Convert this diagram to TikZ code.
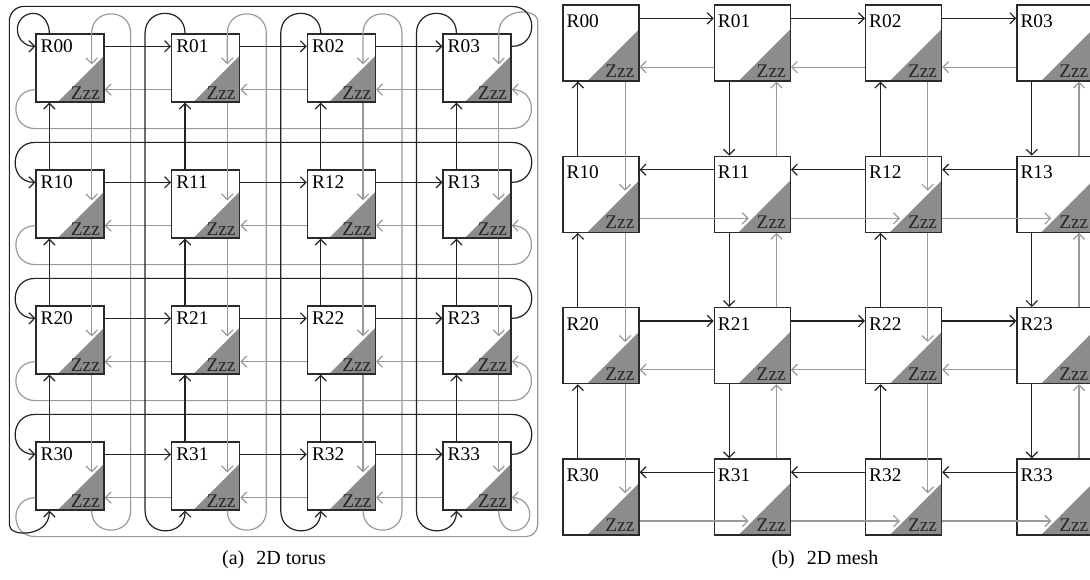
\documentclass[tikz,border=0pt]{standalone}
\usepackage{fontspec}
\setmainfont{Liberation Serif}
\usetikzlibrary{calc,arrows.meta}
\definecolor{blk}{HTML}{222222}
\definecolor{gry}{HTML}{9A9A9A}
\definecolor{tri}{HTML}{8C8C8C}
\definecolor{brd}{HTML}{2A2A2A}
\tikzset{
  rbox/.style={draw=brd, line width=0.95pt, fill=white, inner sep=0pt, minimum size=#1,
    path picture={\fill[tri] ($(path picture bounding box.south west)!0.32!(path picture bounding box.south east)$) -- (path picture bounding box.south east) -- ($(path picture bounding box.south east)!0.68!(path picture bounding box.north east)$) -- cycle;}},
  rlbl/.style={inner sep=0pt, font=\fontsize{14.5}{16}\selectfont, anchor=north west},
  zlbl/.style={inner sep=0pt, font=\fontsize{14.5}{16}\selectfont, anchor=base east, text=black!85},
  bl/.style={draw=blk, line width=0.9pt},
  gl/.style={draw=gry, line width=0.9pt},
  tip/.style={-{Straight Barb[length=4.2pt,width=8.5pt]}},
  capt/.style={inner sep=0pt, font=\fontsize{15}{17}\selectfont, anchor=base},
}
\begin{document}
\begin{tikzpicture}[x=0.75pt,y=-0.75pt]
\clip (0,0) rectangle (1090,580);
\fill[white] (0,0) rectangle (1090,580);

% ---------------- torus nodes ----------------
\foreach \i in {0,...,3}{\foreach \j in {0,...,3}{
  \pgfmathsetmacro\cx{70+135.7*\j}
  \pgfmathsetmacro\cy{68+136*\i}
  \node[rbox=51pt] (t\i\j) at (\cx,\cy) {};
}}

% ---------------- torus gray links ----------------
\foreach \i in {0,...,3}{\foreach \j in {0,1,2}{
  \pgfmathtruncatemacro\jn{\j+1}
  \draw[gl,tip] ($(t\i\jn.south west)+(0,-13)$) -- ($(t\i\j.south east)+(0,-13)$);
}}
\foreach \i in {0,1,2}{\foreach \j in {0,...,3}{
  \pgfmathtruncatemacro\inn{\i+1}
  \draw[gl,tip] ($(t\i\j.south east)+(-13,0)$) -- ($(t\inn\j.north east)+(-13,31)$);
}}
\foreach \i in {0,1,2}{
  \draw[gl,tip] ($(t\i0.south west)+(0,-13)$) .. controls ($(t\i0.south west)+(-26,-13)$) and ($(t\i0.south west)+(-26,26)$) .. ($(t\i0.south west)+(0,26)$) -- ($(t\i3.south east)+(0,26)$) .. controls ($(t\i3.south east)+(26,26)$) and ($(t\i3.south east)+(26,-13)$) .. ($(t\i3.south east)+(0,-13)$);
}
\foreach \j in {0,1,2}{
  \draw[gl,tip] ($(t3\j.south east)+(-13,0)$) .. controls ($(t3\j.south east)+(-13,26)$) and ($(t3\j.south east)+(26,26)$) .. ($(t3\j.south east)+(26,0)$) -- ($(t0\j.north east)+(26,0)$) .. controls ($(t0\j.north east)+(26,-26)$) and ($(t0\j.north east)+(-13,-26)$) .. ($(t0\j.north east)+(-13,0)$) -- ($(t0\j.north east)+(-13,31)$);
}
\draw[gl,tip] ($(t30.south west)+(0,-13)$) .. controls ($(t30.south west)+(-26,-13)$) and ($(t30.south west)+(-26,26)$) .. ($(t30.south west)+(0,26)$) [rounded corners=9pt] -- ($(t33.south east)+(26,26)$) -- ($(t03.north east)+(26,0)$) [sharp corners] .. controls ($(t03.north east)+(26,-26)$) and ($(t03.north east)+(-13,-26)$) .. ($(t03.north east)+(-13,0)$) -- ($(t03.north east)+(-13,31)$);
\draw[gl,tip] ($(t33.south east)+(-13,0)$) .. controls ($(t33.south east)+(-13,11)$) and ($(t33.south east)+(-7,20)$) .. ($(t33.south east)+(2,20)$) .. controls ($(t33.south east)+(11,20)$) and ($(t33.south east)+(18,13)$) .. ($(t33.south east)+(18,4)$) .. controls ($(t33.south east)+(18,-6)$) and ($(t33.south east)+(10,-13)$) .. ($(t33.south east)+(0,-13)$);

% ---------------- torus black links ----------------
\foreach \i in {0,...,3}{\foreach \j in {0,1,2}{
  \pgfmathtruncatemacro\jn{\j+1}
  \draw[bl,tip] ($(t\i\j.north east)+(0,13)$) -- ($(t\i\jn.north west)+(0,13)$);
}}
\foreach \i in {0,1,2}{\foreach \j in {0,...,3}{
  \pgfmathtruncatemacro\inn{\i+1}
  \draw[bl,tip] ($(t\inn\j.north west)+(14,0)$) -- ($(t\i\j.south west)+(14,0)$);
}}
\foreach \i in {1,2,3}{
  \draw[bl,tip] ($(t\i3.north east)+(0,13)$) .. controls ($(t\i3.north east)+(26.7,13)$) and ($(t\i3.north east)+(26.7,-27)$) .. ($(t\i3.north east)+(0,-27)$) -- ($(t\i0.north west)+(0,-27)$) .. controls ($(t\i0.north west)+(-26.7,-27)$) and ($(t\i0.north west)+(-26.7,13)$) .. ($(t\i0.north west)+(0,13)$);
}
\foreach \j in {1,2,3}{
  \draw[bl,tip] ($(t0\j.north west)+(14,0)$) .. controls ($(t0\j.north west)+(14,-26.7)$) and ($(t0\j.north west)+(-26,-26.7)$) .. ($(t0\j.north west)+(-26,0)$) -- ($(t3\j.south west)+(-26,0)$) .. controls ($(t3\j.south west)+(-26,26.7)$) and ($(t3\j.south west)+(14,26.7)$) .. ($(t3\j.south west)+(14,0)$);
}
\draw[bl,tip] ($(t03.north east)+(0,13)$) .. controls ($(t03.north east)+(26.7,13)$) and ($(t03.north east)+(26.7,-27)$) .. ($(t03.north east)+(0,-27)$) [rounded corners=11pt] -- ($(t00.north west)+(-26,-27)$) -- ($(t30.south west)+(-26,0)$) [sharp corners] .. controls ($(t30.south west)+(-26,26.7)$) and ($(t30.south west)+(14,26.7)$) .. ($(t30.south west)+(14,0)$);
\draw[bl,tip] ($(t00.north west)+(14,0)$) .. controls ($(t00.north west)+(14,-11)$) and ($(t00.north west)+(7,-20)$) .. ($(t00.north west)+(-2,-20)$) .. controls ($(t00.north west)+(-11,-20)$) and ($(t00.north west)+(-18,-13)$) .. ($(t00.north west)+(-18,-4)$) .. controls ($(t00.north west)+(-18,6)$) and ($(t00.north west)+(-10,13)$) .. ($(t00.north west)+(0,13)$);

% ---------------- mesh nodes ----------------
\foreach \i in {0,...,3}{\foreach \j in {0,...,3}{
  \pgfmathsetmacro\cx{601+151.3*\j}
  \pgfmathsetmacro\cy{43+151.3*\i}
  \node[rbox=57pt] (m\i\j) at (\cx,\cy) {};
}}

% ---------------- mesh links ----------------
\foreach \i in {0,...,3}{\foreach \j in {0,1,2}{
  \pgfmathtruncatemacro\jn{\j+1}
  \ifodd\i
    \draw[gl,tip] ($(m\i\j.south east)+(0,-14.5)$) -- ($(m\i\jn.south west)+(35,-14.5)$);
    \draw[bl,tip] ($(m\i\jn.north west)+(0,14)$) -- ($(m\i\j.north east)+(0,14)$);
  \else
    \draw[gl,tip] ($(m\i\jn.south west)+(0,-14.5)$) -- ($(m\i\j.south east)+(0,-14.5)$);
    \draw[bl,tip] ($(m\i\j.north east)+(0,14)$) -- ($(m\i\jn.north west)+(0,14)$);
  \fi
}}
\foreach \i in {0,1,2}{\foreach \j in {0,...,3}{
  \pgfmathtruncatemacro\inn{\i+1}
  \ifodd\j
    \draw[gl,tip] ($(m\inn\j.north east)+(-14.5,0)$) -- ($(m\i\j.south east)+(-14.5,0)$);
    \draw[bl,tip] ($(m\i\j.south west)+(15.5,0)$) -- ($(m\inn\j.north west)+(15.5,0)$);
  \else
    \draw[gl,tip] ($(m\i\j.south east)+(-14.5,0)$) -- ($(m\inn\j.north east)+(-14.5,35)$);
    \draw[bl,tip] ($(m\inn\j.north west)+(15.5,0)$) -- ($(m\i\j.south west)+(15.5,0)$);
  \fi
}}

% ---------------- labels ----------------
\foreach \i in {0,...,3}{\foreach \j in {0,...,3}{
  \node[rlbl] (t\i\j l) at ($(t\i\j.north west)+(5,6)$) {R\i\j};
  \node[zlbl] (t\i\j z) at ($(t\i\j.south east)+(-4.5,-3)$) {Zzz};
  \node[rlbl] (m\i\j l) at ($(m\i\j.north west)+(4,10)$) {R\i\j};
  \node[zlbl] (m\i\j z) at ($(m\i\j.south east)+(-5,-4)$) {Zzz};
}}

\node[capt] (capa) at (274,565) {(a)\hspace{0.6em}2D torus};
\node[capt] (capb) at (825,565) {(b)\hspace{0.6em}2D mesh};
\end{tikzpicture}
\end{document}
